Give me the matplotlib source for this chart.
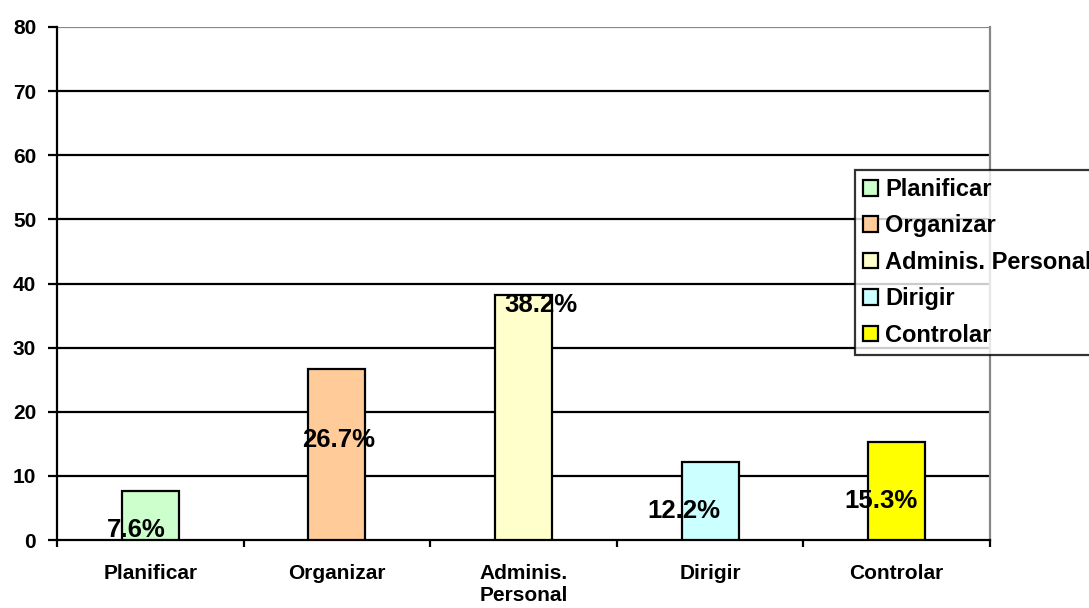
import matplotlib
matplotlib.use("Agg")
import matplotlib.pyplot as plt
from matplotlib.patches import Patch
import numpy as np

plt.rcParams['font.family'] = ['Liberation Sans', 'DejaVu Sans']
plt.rcParams['font.weight'] = 'bold'

categories = ["Planificar", "Organizar", "Adminis.\nPersonal", "Dirigir", "Controlar"]
legend_labels = ["Planificar", "Organizar", "Adminis. Personal", "Dirigir", "Controlar"]
values = [7.6, 26.7, 38.2, 12.2, 15.3]
value_labels = ["7.6%", "26.7%", "38.2%", "12.2%", "15.3%"]
colors = ["#CCFFCC", "#FFCC99", "#FFFFCC", "#CCFFFF", "#FFFF00"]
yticks = [0, 10, 20, 30, 40, 50, 60, 70, 80]

# label offsets in pixels (layout)
label_offsets = [(-14.5, -45.5), (2, -78), (17, -17), (-26.5, -56.5), (-16, -66.5)]

fig = plt.figure(figsize=(10.89, 6.08), dpi=100)
ax = fig.add_axes([57/1089, 1-540/608, (990-57)/1089, (540-27)/608])

x = np.arange(len(categories))
ax.bar(x, values, width=0.305, color=colors, edgecolor='black', linewidth=1.6, zorder=3)

ax.set_xlim(-0.5, len(categories) - 0.5)
ax.set_ylim(0, 80)
ax.set_yticks(yticks)
ax.set_yticklabels([str(t) for t in yticks], fontsize=15, fontweight='bold')

for t in yticks[1:-1]:
    ax.axhline(t, color='black', linewidth=1.6, zorder=1)
ax.axhline(80, color='#888888', linewidth=1.6, zorder=1)

ax.set_xticks(np.arange(len(categories) + 1) - 0.5)
ax.set_xticklabels([])
ax.set_xticks(x, minor=True)
ax.set_xticklabels(categories, minor=True, fontsize=15, fontweight='bold', linespacing=1.2)
ax.tick_params(axis='x', which='major', direction='out', length=5, width=1.6, color='black')
ax.tick_params(axis='x', which='minor', length=0, pad=17)
ax.tick_params(axis='y', direction='out', length=6.5, width=1.6, pad=8.5)

ax.spines['left'].set_linewidth(1.6)
ax.spines['bottom'].set_linewidth(1.6)
ax.spines['top'].set_visible(False)
ax.spines['right'].set_color('#888888')
ax.spines['right'].set_linewidth(1.6)

for xi, v, lab, (dx, dy) in zip(x, values, value_labels, label_offsets):
    ax.annotate(lab, xy=(xi, v), xytext=(dx, dy), textcoords='offset pixels',
                ha='center', va='baseline', fontsize=18.5, fontweight='bold', zorder=5)

handles = [Patch(facecolor=c, edgecolor='black', linewidth=1.6) for c in colors]
leg = fig.legend(handles, legend_labels, loc='upper left', bbox_to_anchor=(855/1089, 1-170/608),
                 bbox_transform=fig.transFigure, fontsize=17, frameon=True, fancybox=False,
                 edgecolor='black', handlelength=0.64, handleheight=0.64, handletextpad=0.3,
                 labelspacing=0.57, borderpad=0.34, borderaxespad=0)
leg.get_frame().set_linewidth(1.6)
for t in leg.get_texts():
    t.set_fontweight('bold')

fig.savefig("out.png", dpi=100)
